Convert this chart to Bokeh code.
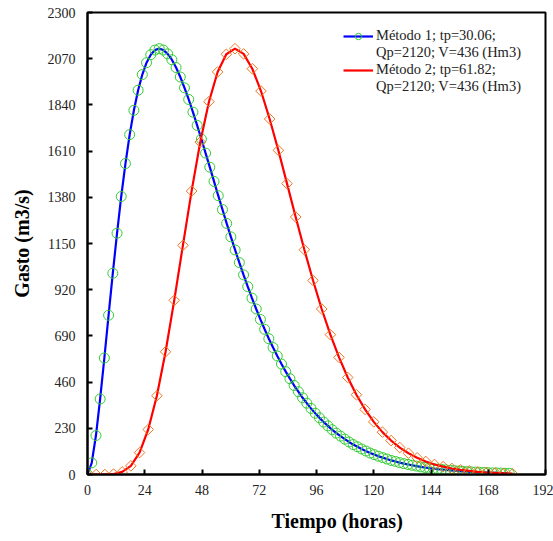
import numpy as np
from bokeh.plotting import figure
from bokeh.models import Range1d, FixedTicker, Legend, LegendItem, Title
from bokeh.embed import file_html
from bokeh.resources import INLINE

# Método 1 (tp = 30.06 h)
t1 = [0.00, 1.77, 3.54, 5.30, 7.07, 8.84, 10.61, 12.38, 14.14, 15.91,
      17.68, 19.45, 21.22, 22.98, 24.75, 26.52, 28.29, 30.06, 31.82, 33.59,
      35.36, 37.13, 38.90, 40.66, 42.43, 44.20, 45.97, 47.74, 49.50, 51.27,
      53.04, 54.81, 56.58, 58.34, 60.11, 61.88, 63.65, 65.42, 67.18, 68.95,
      70.72, 72.49, 74.26, 76.02, 77.79, 79.56, 81.33, 83.10, 84.86, 86.63,
      88.40, 90.17, 91.94, 93.70, 95.47, 97.24, 99.01, 100.78, 102.54, 104.31,
      106.08, 107.85, 109.62, 111.38, 113.15, 114.92, 116.69, 118.46, 120.22, 121.99,
      123.76, 125.53, 127.30, 129.06, 130.83, 132.60, 134.37, 136.14, 137.90, 139.67,
      141.44, 143.21, 144.98, 146.74, 148.51, 150.28, 152.05, 153.82, 155.58, 157.35,
      159.12, 160.89, 162.66, 164.42, 166.19, 167.96, 169.73, 171.50, 173.26, 175.03,
      176.80]
q1 = [0, 58, 194, 376, 580, 793, 1002, 1201, 1384, 1548,
      1692, 1813, 1913, 1991, 2050, 2090, 2113, 2120, 2113, 2094,
      2065, 2026, 1979, 1925, 1867, 1804, 1738, 1670, 1600, 1530,
      1459, 1388, 1319, 1250, 1183, 1118, 1055, 994, 935, 878,
      824, 772, 723, 676, 632, 590, 550, 512, 477, 443,
      412, 382, 355, 329, 305, 282, 261, 242, 223, 206,
      191, 176, 162, 149, 138, 127, 117, 107, 99, 91,
      84, 77, 70, 65, 59, 54, 50, 46, 42, 38,
      35, 32, 30, 27, 25, 23, 21, 19, 17, 16,
      14, 13, 12, 11, 10, 9, 8, 8, 7, 6,
      6]

# Método 2 (tp = 61.82 h)
t2 = [0.00, 3.64, 7.27, 10.91, 14.54, 18.18, 21.82, 25.45, 29.09, 32.73,
      36.36, 40.00, 43.64, 47.27, 50.91, 54.55, 58.18, 61.82, 65.45, 69.09,
      72.73, 76.36, 80.00, 83.64, 87.27, 90.91, 94.55, 98.18, 101.82, 105.45,
      109.09, 112.73, 116.36, 120.00, 123.64, 127.27, 130.91, 134.55, 138.18, 141.82,
      145.45, 149.09, 152.73, 156.36, 160.00, 163.64, 167.27, 170.91, 174.55, 178.18]
q2 = [0, 0, 0, 2, 13, 43, 109, 224, 392, 611,
      867, 1141, 1411, 1655, 1856, 2004, 2092, 2120, 2094, 2020,
      1909, 1770, 1614, 1448, 1282, 1119, 966, 824, 696, 583,
      483, 397, 324, 262, 211, 169, 134, 106, 83, 65,
      50, 39, 30, 23, 18, 13, 10, 8, 6, 4]

x_ticks = [0, 24, 48, 72, 96, 120, 144, 168, 192]
y_ticks = [0, 230, 460, 690, 920, 1150, 1380, 1610, 1840, 2070, 2300]

label1 = ["Método 1; tp=30.06;", "Qp=2120; V=436 (Hm3)"]
label2 = ["Método 2; tp=61.82;", "Qp=2120; V=436 (Hm3)"]
x_title = "Tiempo (horas)"
y_title = "Gasto (m3/s)"

SERIF = "Liberation Serif"

p = figure(width=553, height=541, output_backend="svg", toolbar_location=None,
           x_range=Range1d(0, 192), y_range=Range1d(0, 2300),
           min_border_left=87, min_border_right=8, min_border_top=12,
           min_border_bottom=67, background_fill_color="white",
           border_fill_color="white")

p.xgrid.visible = False
p.ygrid.visible = False
p.outline_line_color = "black"
p.outline_line_width = 2
p.outline_line_alpha = 1

p.xaxis.ticker = FixedTicker(ticks=x_ticks)
p.yaxis.ticker = FixedTicker(ticks=y_ticks)
for ax in (p.xaxis, p.yaxis):
    ax.axis_line_width = 2
    ax.axis_line_color = "black"
    ax.major_tick_in = 5
    ax.major_tick_out = 0
    ax.major_tick_line_width = 2
    ax.minor_tick_line_color = None
    ax.major_label_text_font = SERIF
    ax.major_label_text_font_size = "14px"
    ax.major_label_text_color = "#222222"
    ax.axis_label_text_font = SERIF
    ax.axis_label_text_font_size = "20px"
    ax.axis_label_text_font_style = "bold"
    ax.axis_label_text_color = "black"

p.yaxis.axis_label = y_title
p.xaxis.major_label_standoff = 10
p.yaxis.major_label_standoff = 12
p.yaxis.axis_label_standoff = 12

xt = Title(text=x_title, align="left", offset=184, standoff=20,
           text_font=SERIF, text_font_size="20px", text_font_style="bold",
           text_color="black")
p.add_layout(xt, "below")

l1 = p.line(t1, q1, line_color="#0000FF", line_width=2.2)
s1 = p.scatter(t1, q1, marker="circle", size=10, fill_color=None,
               line_color="#33CC33", line_width=1)
l2 = p.line(t2, q2, line_color="#FF0000", line_width=2.2)
s2 = p.scatter(t2, q2, marker="square", size=7.5, angle=np.pi / 4,
               fill_color=None, line_color="#EE7722", line_width=1)

# legend-only helpers
d2 = p.scatter([], [], marker="diamond", size=12, fill_color=None,
               line_color="#EE7722", line_width=1)
blank_a = p.line([], [], line_alpha=0)
blank_b = p.line([], [], line_alpha=0)

legend = Legend(items=[LegendItem(label=label1[0], renderers=[l1, s1]),
                       LegendItem(label=label1[1], renderers=[blank_a]),
                       LegendItem(label=label2[0], renderers=[l2, d2]),
                       LegendItem(label=label2[1], renderers=[blank_b])],
                location=(256, 379))
legend.label_text_font = SERIF
legend.label_text_font_size = "14.5px"
legend.label_text_color = "#222222"
legend.border_line_color = None
legend.background_fill_alpha = 0
legend.glyph_width = 30
legend.glyph_height = 16
legend.label_height = 16
legend.spacing = 0
legend.margin = 0
legend.padding = 0
legend.label_standoff = 3
p.add_layout(legend)

open("out.html", "w").write(file_html(p, INLINE))
